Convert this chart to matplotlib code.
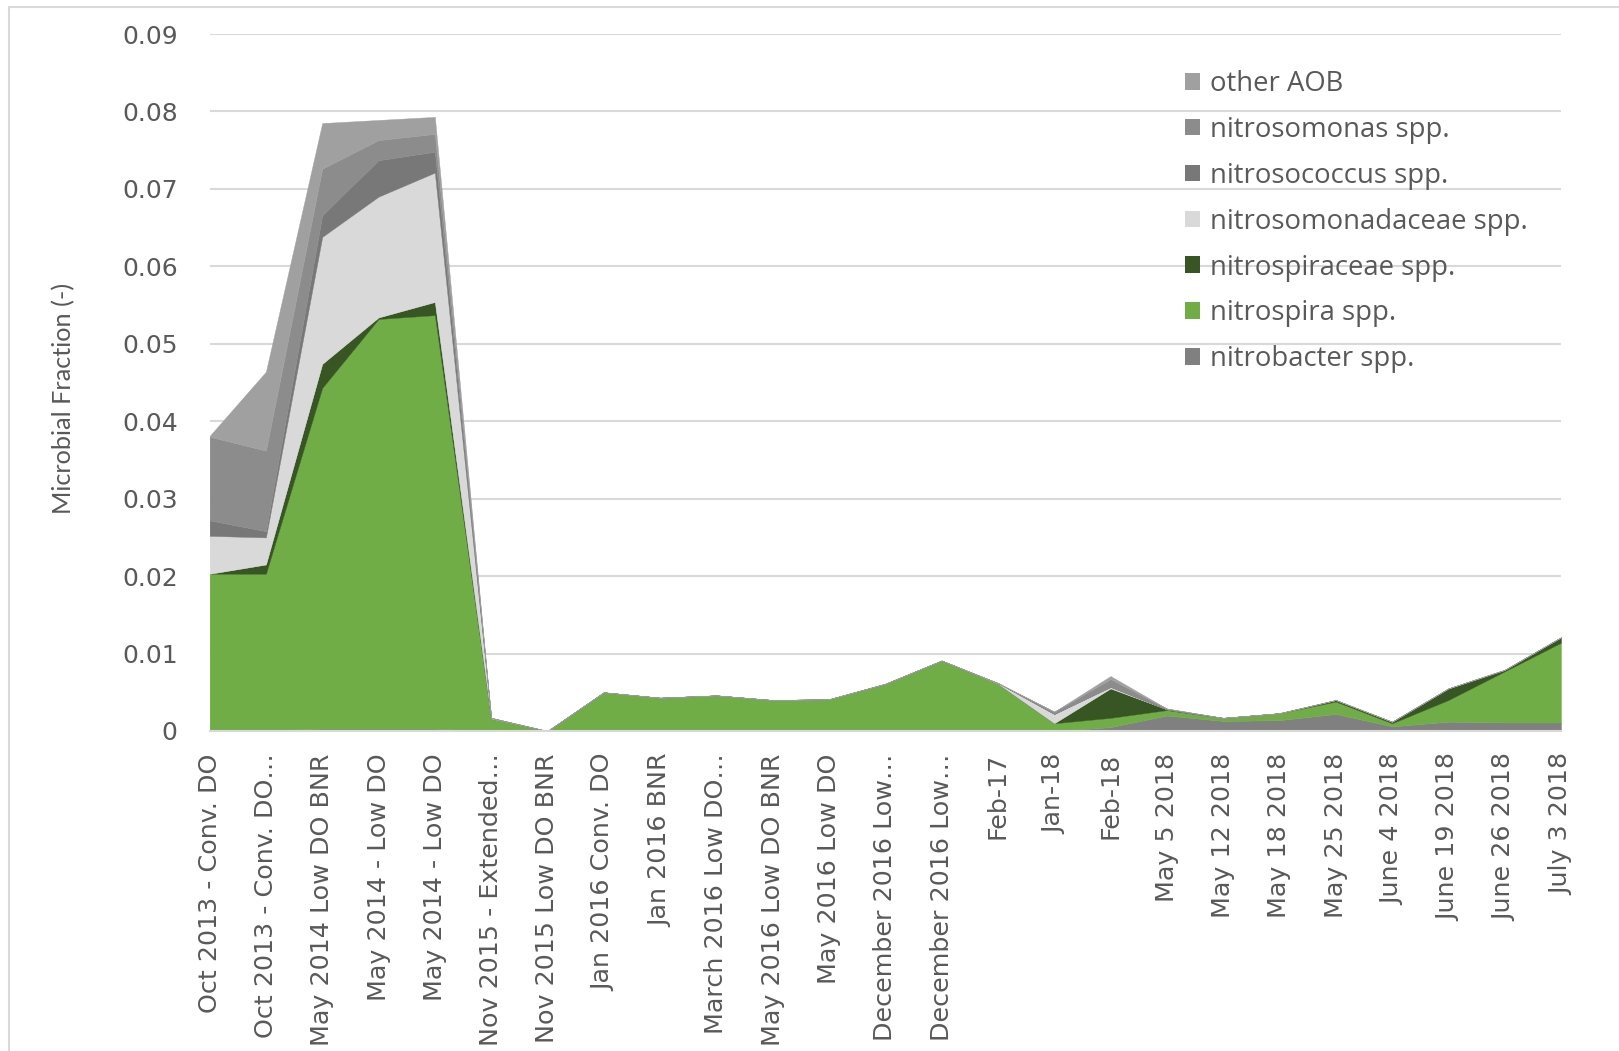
import numpy as np
import matplotlib
matplotlib.use("Agg")
import matplotlib.pyplot as plt
from matplotlib.patches import Patch, Rectangle

# sample labels along the x axis
categories = ["Oct 2013 - Conv. DO", "Oct 2013 - Conv. DO\u2026", "May 2014 Low DO BNR",
              "May 2014 - Low DO", "May 2014 - Low DO", "Nov 2015 - Extended\u2026",
              "Nov 2015 Low DO BNR", "Jan 2016 Conv. DO", "Jan 2016 BNR",
              "March 2016 Low DO\u2026", "May 2016 Low DO BNR", "May 2016 Low DO",
              "December 2016 Low\u2026", "December 2016 Low\u2026", "Feb-17", "Jan-18",
              "Feb-18", "May 5 2018", "May 12 2018", "May 18 2018", "May 25 2018",
              "June 4 2018", "June 19 2018", "June 26 2018", "July 3 2018"]

# fractions per group, stacked bottom to top
nitrobacter = [0, 0.0001, 0.0003, 0.0003, 0.0003, 0, 0, 0, 0, 0, 0, 0, 0, 0, 0, 0,
               0.0005, 0.0020, 0.0013, 0.0014, 0.0022, 0.0006, 0.0012, 0.0011, 0.0011]
nitrospira = [0.0203, 0.0202, 0.0440, 0.0529, 0.0534, 0.0016, 0, 0.0050, 0.0043,
              0.0046, 0.0040, 0.0041, 0.0061, 0.0091, 0.0061, 0.0010, 0.0012, 0.0007,
              0.0004, 0.0009, 0.0016, 0.0004, 0.0028, 0.0066, 0.0103]
nitrospiraceae = [0, 0.0012, 0.0031, 0.0002, 0.0017, 0, 0, 0, 0, 0, 0, 0, 0, 0, 0, 0,
                  0.0038, 0.0001, 0, 0, 0.0002, 0.0002, 0.0015, 0.0002, 0.0007]
nitrosomonadaceae = [0.0049, 0.0035, 0.0164, 0.0156, 0.0167, 0.0001, 0, 0, 0, 0, 0, 0,
                     0, 0, 0.0001, 0.0012, 0.0002, 0, 0, 0, 0, 0, 0, 0, 0]
nitrosococcus = [0.0020, 0.0008, 0.0028, 0.0047, 0.0027, 0, 0, 0, 0, 0, 0, 0, 0, 0, 0,
                 0, 0, 0, 0, 0, 0, 0, 0, 0, 0]
nitrosomonas = [0.0108, 0.0104, 0.0060, 0.0026, 0.0023, 0, 0, 0, 0, 0, 0, 0, 0, 0, 0,
                0.0003, 0.0010, 0.0001, 0, 0, 0, 0, 0, 0, 0]
other_aob = [0.0001, 0.0102, 0.0059, 0.0026, 0.0022, 0, 0, 0, 0, 0, 0, 0, 0, 0, 0, 0,
             0.0004, 0, 0, 0, 0, 0, 0, 0, 0]

series = [nitrobacter, nitrospira, nitrospiraceae, nitrosomonadaceae,
          nitrosococcus, nitrosomonas, other_aob]
names = ["nitrobacter spp.", "nitrospira spp.", "nitrospiraceae spp.",
         "nitrosomonadaceae spp.", "nitrosococcus spp.", "nitrosomonas spp.", "other AOB"]
colors = ["#808080", "#70ad47", "#375623", "#d9d9d9", "#787878", "#8c8c8c", "#a0a0a0"]

yticks = [0, 0.01, 0.02, 0.03, 0.04, 0.05, 0.06, 0.07, 0.08, 0.09]
ytick_labels = ["0", "0.01", "0.02", "0.03", "0.04", "0.05", "0.06", "0.07", "0.08", "0.09"]

txt = "#595959"
W, H = 1619, 1051

fig = plt.figure(figsize=(W / 100, H / 100), dpi=100)
ax = fig.add_axes([209.6 / W, 1 - 731 / H, (1561 - 209.6) / W, (731 - 34) / H])

x = np.arange(len(categories))
polys = ax.stackplot(x, *series, colors=colors, labels=names, zorder=2)
for p, c in zip(polys, colors):
    p.set_edgecolor(c)
    p.set_linewidth(0.3)

ax.set_xlim(0, len(categories) - 1)
ax.set_ylim(0, 0.09)
ax.set_yticks(yticks)
ax.set_yticklabels(ytick_labels)
ax.set_xticks(x)
ax.set_xticklabels(categories, rotation=90)
ax.grid(axis="y", color="#d9d9d9", linewidth=1.5, zorder=0)
ax.set_axisbelow(True)
for s in ["top", "right", "left"]:
    ax.spines[s].set_visible(False)
ax.spines["bottom"].set_color("#d9d9d9")
ax.spines["bottom"].set_linewidth(1.5)
ax.tick_params(axis="y", length=0, pad=23, labelsize=18, labelcolor=txt)
ax.tick_params(axis="x", length=0, pad=16, labelsize=18.3, labelcolor=txt)

ax.set_ylabel("Microbial Fraction (-)", fontsize=18.2, color=txt,
              family="Lato", va="center")
ax.yaxis.set_label_coords(-0.108, 0.477)

# legend lists the top of the stack first
handles = [Patch(facecolor=c, edgecolor="none") for c in colors][::-1]
leg = ax.legend(handles, names[::-1], loc="upper left",
                bbox_to_anchor=(1185 / W, 1 - 70 / H), bbox_transform=fig.transFigure,
                frameon=False, borderpad=0, borderaxespad=0,
                handlelength=0.55, handleheight=0.55, handletextpad=0.36,
                labelspacing=0.65, prop={"family": "Open Sans", "size": 19.8})
for t in leg.get_texts():
    t.set_color(txt)

# chart border
fig.patches.append(Rectangle((8.5 / W, -0.1), 1.2, 1.1 - 7 / H, transform=fig.transFigure,
                             fill=False, edgecolor="#d9d9d9", linewidth=1.5))

fig.savefig("out.png", dpi=100)
